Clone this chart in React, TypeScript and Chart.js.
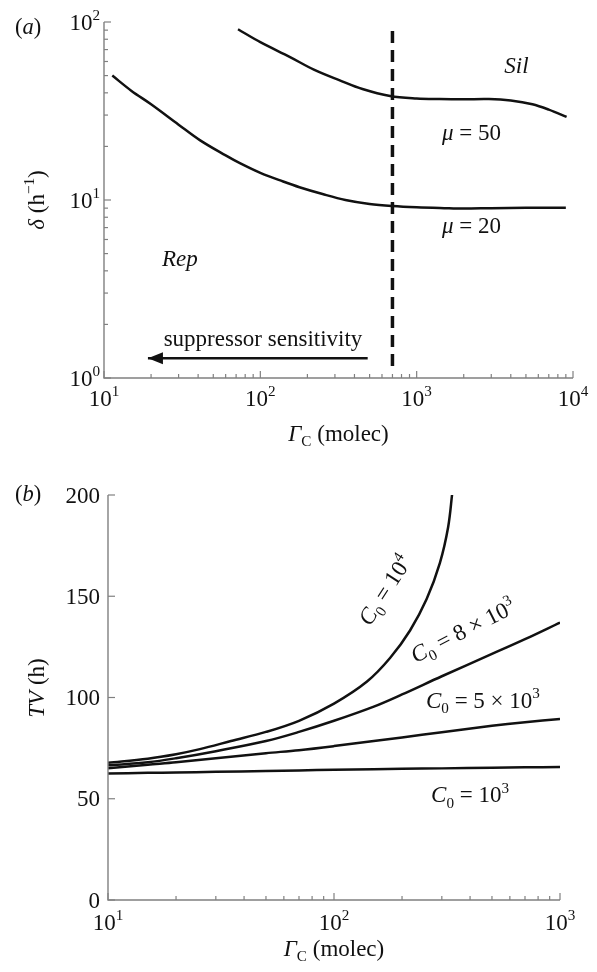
import React, { useEffect, useRef } from 'react';
import { Chart, registerables } from 'chart.js';
Chart.register(...registerables);

const FONT = '"Liberation Serif", "DejaVu Serif", serif';
const INK = '#111111';
const AXIS = '#808080';
const FS = 23;

// ---------- Panel (a) data ----------
const A_X_TICKS = [10, 100, 1000, 10000];
const A_Y_TICKS = [1, 10, 100];
const MU20_X = [11.3, 15, 20, 30, 41, 60, 74, 100, 140, 178, 250, 350, 500, 700, 1000, 1500, 2000, 3000, 5000, 9000];
const MU20_Y = [50, 41, 34.5, 26.5, 21.7, 17.8, 16.1, 14.2, 12.7, 11.8, 10.8, 10.0, 9.5, 9.25, 9.1, 9.0, 8.95, 9.0, 9.05, 9.05];
const MU50_X = [72, 100, 155, 220, 322, 450, 676, 1000, 1400, 2000, 2900, 4000, 5500, 7000, 9100];
const MU50_Y = [91, 77, 63.5, 54, 47, 42, 38.4, 37.2, 36.9, 36.8, 36.9, 36.2, 34.5, 32.2, 29.3];
const THRESH_X = [700, 700];
const THRESH_Y = [89, 1.14];
const ARROW_X = [19.1, 486];
const ARROW_Y = [1.29, 1.29];

// ---------- Panel (b) data ----------
const B_X_TICKS = [10, 100, 1000];
const B_Y_TICKS = [0, 50, 100, 150, 200];
const B_X = [10, 15, 20, 30, 50, 70, 100, 150, 200, 300, 500, 700, 1000];
const C1E3 = [62.5, 62.8, 63, 63.3, 63.7, 64, 64.3, 64.6, 64.8, 65, 65.3, 65.5, 65.7];
const C5E3 = [65, 66.8, 68, 70, 72.5, 74, 76, 78.5, 80.3, 82.8, 86, 87.8, 89.4];
const C8E3 = [66.5, 68, 70, 73.5, 78.5, 83, 88.5, 95.5, 101.5, 110.5, 121.5, 128.8, 137];
const C1E4_X = [10, 15, 20, 25.5, 35, 50, 70, 100, 140, 177, 217, 257, 294, 320, 334];
const C1E4 = [67.8, 69.8, 72, 74.5, 78.5, 83, 88.5, 97, 107.9, 119.5, 133.1, 148.6, 166.4, 184.2, 201.5];

type Seg = { t: string; i?: boolean; sub?: boolean; sup?: boolean };

function drawRich(ctx: CanvasRenderingContext2D, segs: Seg[], x: number, y: number, size: number,
  align: 'left' | 'center' | 'right' = 'center', rot = 0) {
  ctx.save();
  ctx.translate(x, y);
  ctx.rotate(rot);
  ctx.fillStyle = INK;
  ctx.textBaseline = 'alphabetic';
  ctx.textAlign = 'left';
  const fontOf = (s: Seg) => {
    const sz = s.sub || s.sup ? size * 0.66 : size;
    return `${s.i ? 'italic ' : ''}${sz}px ${FONT}`;
  };
  const widths = segs.map((s) => { ctx.font = fontOf(s); return ctx.measureText(s.t).width; });
  const total = widths.reduce((a, b) => a + b, 0);
  let cx = align === 'center' ? -total / 2 : align === 'right' ? -total : 0;
  const base = size * 0.33;
  segs.forEach((s, k) => {
    ctx.font = fontOf(s);
    const dy = s.sup ? -size * 0.42 : s.sub ? size * 0.24 : 0;
    ctx.fillText(s.t, cx, base + dy);
    cx += widths[k];
  });
  ctx.restore();
}

const pow10 = (v: number): Seg[] => [{ t: '10' }, { t: String(Math.round(Math.log10(v))), sup: true }];
const num = (v: number): Seg[] => [{ t: String(v) }];

type Txt = { segs: Seg[]; x: number; y: number; rot?: number; size?: number };
type DecoCfg = {
  xMajor: number[]; yMajor: number[]; xLog: boolean; yLog: boolean;
  xLabel: (v: number) => Seg[]; yLabel: (v: number) => Seg[];
  xLabelDy: number; yLabelGap: number; texts: Txt[];
  xTitle: Seg[]; xTitleDy: number; yTitle: Seg[]; yTitleX: number; yTitleY: number;
  panel: Seg[]; panelX: number; panelY: number; arrow?: boolean;
};

function minorsOf(major: number[]) {
  const out: number[] = [];
  for (let k = 0; k < major.length - 1; k++) for (let m = 2; m <= 9; m++) out.push(major[k] * m);
  return out;
}

function decoPlugin(cfg: DecoCfg) {
  return {
    id: 'deco',
    afterDraw(chart: any) {
      const ctx: CanvasRenderingContext2D = chart.ctx;
      const { left, right, top, bottom } = chart.chartArea;
      const xs = chart.scales.x, ys = chart.scales.y;
      ctx.save();
      ctx.strokeStyle = AXIS;
      ctx.lineWidth = 1.4;
      ctx.beginPath();
      ctx.moveTo(left, top); ctx.lineTo(left, bottom); ctx.lineTo(right, bottom);
      ctx.stroke();
      ctx.lineWidth = 1.2;
      const tick = (px: number, len: number, horiz: boolean) => {
        ctx.beginPath();
        if (horiz) { ctx.moveTo(px, bottom); ctx.lineTo(px, bottom - len); }
        else { ctx.moveTo(left, px); ctx.lineTo(left + len, px); }
        ctx.stroke();
      };
      cfg.xMajor.forEach((v) => tick(xs.getPixelForValue(v), 7, true));
      if (cfg.xLog) minorsOf(cfg.xMajor).forEach((v) => tick(xs.getPixelForValue(v), 4, true));
      cfg.yMajor.forEach((v) => tick(ys.getPixelForValue(v), 7, false));
      if (cfg.yLog) minorsOf(cfg.yMajor).forEach((v) => tick(ys.getPixelForValue(v), 4, false));
      ctx.restore();

      cfg.xMajor.forEach((v) => drawRich(ctx, cfg.xLabel(v), xs.getPixelForValue(v), bottom + cfg.xLabelDy, FS, 'center'));
      cfg.yMajor.forEach((v) => drawRich(ctx, cfg.yLabel(v), left - cfg.yLabelGap, ys.getPixelForValue(v), FS, 'right'));

      cfg.texts.forEach((t) => drawRich(ctx, t.segs, xs.getPixelForValue(t.x), ys.getPixelForValue(t.y), t.size || FS, 'center', t.rot || 0));

      drawRich(ctx, cfg.xTitle, (left + right) / 2, bottom + cfg.xTitleDy, FS, 'center');
      drawRich(ctx, cfg.yTitle, cfg.yTitleX, cfg.yTitleY, FS, 'center', -Math.PI / 2);
      drawRich(ctx, cfg.panel, cfg.panelX, cfg.panelY, 22.5, 'center');

      if (cfg.arrow) {
        const tx = xs.getPixelForValue(ARROW_X[0]);
        const ty = ys.getPixelForValue(ARROW_Y[0]);
        ctx.save();
        ctx.fillStyle = INK;
        ctx.beginPath();
        ctx.moveTo(tx, ty);
        ctx.lineTo(tx + 15, ty - 6);
        ctx.lineTo(tx + 15, ty + 6);
        ctx.closePath();
        ctx.fill();
        ctx.restore();
      }
    },
  };
}

const pts = (xs: number[], ys: number[]) => xs.map((x, k) => ({ x, y: ys[k] }));

const lineDs = (data: any[], extra: any = {}) => ({
  data, borderColor: INK, borderWidth: 2.5, pointRadius: 0, fill: false,
  tension: 0.35, ...extra,
});

function baseScales(xCfg: any, yCfg: any, xH: number, yW: number) {
  const common = { grid: { display: false }, border: { display: false }, ticks: { display: false } };
  return {
    x: { ...common, ...xCfg, afterFit: (s: any) => { s.height = xH; } },
    y: { ...common, ...yCfg, afterFit: (s: any) => { s.width = yW; } },
  };
}

function configA(): any {
  const deco = decoPlugin({
    xMajor: A_X_TICKS, yMajor: A_Y_TICKS, xLog: true, yLog: true,
    xLabel: pow10, yLabel: pow10, xLabelDy: 20, yLabelGap: 4,
    texts: [
      { segs: [{ t: 'Sil', i: true }], x: 4350, y: 57 },
      { segs: [{ t: 'μ', i: true }, { t: ' = 50' }], x: 2245, y: 24.1 },
      { segs: [{ t: 'μ', i: true }, { t: ' = 20' }], x: 2245, y: 7.24 },
      { segs: [{ t: 'Rep', i: true }], x: 30.6, y: 4.72 },
      { segs: [{ t: 'suppressor sensitivity' }], x: 104, y: 1.66 },
    ],
    xTitle: [{ t: 'Γ', i: true }, { t: 'C', sub: true }, { t: ' (molec)' }], xTitleDy: 55,
    yTitle: [{ t: 'δ', i: true }, { t: ' (h' }, { t: '−1', sup: true }, { t: ')' }], yTitleX: 36, yTitleY: 200,
    panel: [{ t: '(' }, { t: 'a', i: true }, { t: ')' }], panelX: 28, panelY: 27, arrow: true,
  });
  return {
    type: 'line',
    data: {
      datasets: [
        lineDs(pts(MU20_X, MU20_Y)),
        lineDs(pts(MU50_X, MU50_Y)),
        lineDs(pts(THRESH_X, THRESH_Y), { borderDash: [12, 7], borderWidth: 3.5, tension: 0 }),
        lineDs(pts(ARROW_X, ARROW_Y), { borderWidth: 2.6, tension: 0 }),
      ],
    },
    options: {
      responsive: false, animation: false,
      plugins: { legend: { display: false }, tooltip: { enabled: false } },
      layout: { padding: { left: 0, right: 24, top: 22, bottom: 0 } },
      scales: baseScales({ type: 'logarithmic', min: 10, max: 10000 }, { type: 'logarithmic', min: 1, max: 100 }, 82, 104),
    },
    plugins: [deco],
  };
}

function configB(): any {
  const deco = decoPlugin({
    xMajor: B_X_TICKS, yMajor: B_Y_TICKS, xLog: true, yLog: false,
    xLabel: pow10, yLabel: num, xLabelDy: 22, yLabelGap: 8,
    texts: [
      { segs: [{ t: 'C', i: true }, { t: '0', sub: true }, { t: ' = 10' }, { t: '4', sup: true }], x: 168, y: 153, rot: -57 * Math.PI / 180 },
      { segs: [{ t: 'C', i: true }, { t: '0', sub: true }, { t: ' = 8 × 10' }, { t: '3', sup: true }], x: 372, y: 133, rot: -27 * Math.PI / 180 },
      { segs: [{ t: 'C', i: true }, { t: '0', sub: true }, { t: ' = 5 × 10' }, { t: '3', sup: true }], x: 456, y: 98.8 },
      { segs: [{ t: 'C', i: true }, { t: '0', sub: true }, { t: ' = 10' }, { t: '3', sup: true }], x: 400, y: 51.9 },
    ],
    xTitle: [{ t: 'Γ', i: true }, { t: 'C', sub: true }, { t: ' (molec)' }], xTitleDy: 48,
    yTitle: [{ t: 'TV', i: true }, { t: ' (h)' }], yTitleX: 36, yTitleY: 228,
    panel: [{ t: '(' }, { t: 'b', i: true }, { t: ')' }], panelX: 28, panelY: 34,
  });
  return {
    type: 'line',
    data: {
      datasets: [
        lineDs(pts(B_X, C1E3)),
        lineDs(pts(B_X, C5E3)),
        lineDs(pts(B_X, C8E3)),
        lineDs(pts(C1E4_X, C1E4)),
      ],
    },
    options: {
      responsive: false, animation: false,
      plugins: { legend: { display: false }, tooltip: { enabled: false } },
      layout: { padding: { left: 0, right: 37, top: 35, bottom: 0 } },
      scales: baseScales({ type: 'logarithmic', min: 10, max: 1000 }, { type: 'linear', min: 0, max: 200 }, 72, 108),
    },
    plugins: [deco],
  };
}

export default function App() {
  const aRef = useRef<HTMLCanvasElement>(null);
  const bRef = useRef<HTMLCanvasElement>(null);
  useEffect(() => {
    const ca = new Chart(aRef.current as HTMLCanvasElement, configA());
    const cb = new Chart(bRef.current as HTMLCanvasElement, configB());
    return () => { ca.destroy(); cb.destroy(); };
  }, []);
  return (
    <div style={{ position: 'absolute', left: 0, top: 0, width: 597, height: 972, background: '#ffffff' }}>
      <canvas ref={aRef} width={597} height={460} style={{ position: 'absolute', left: 0, top: 0, width: 597, height: 460 }} />
      <canvas ref={bRef} width={597} height={512} style={{ position: 'absolute', left: 0, top: 460, width: 597, height: 512 }} />
    </div>
  );
}
